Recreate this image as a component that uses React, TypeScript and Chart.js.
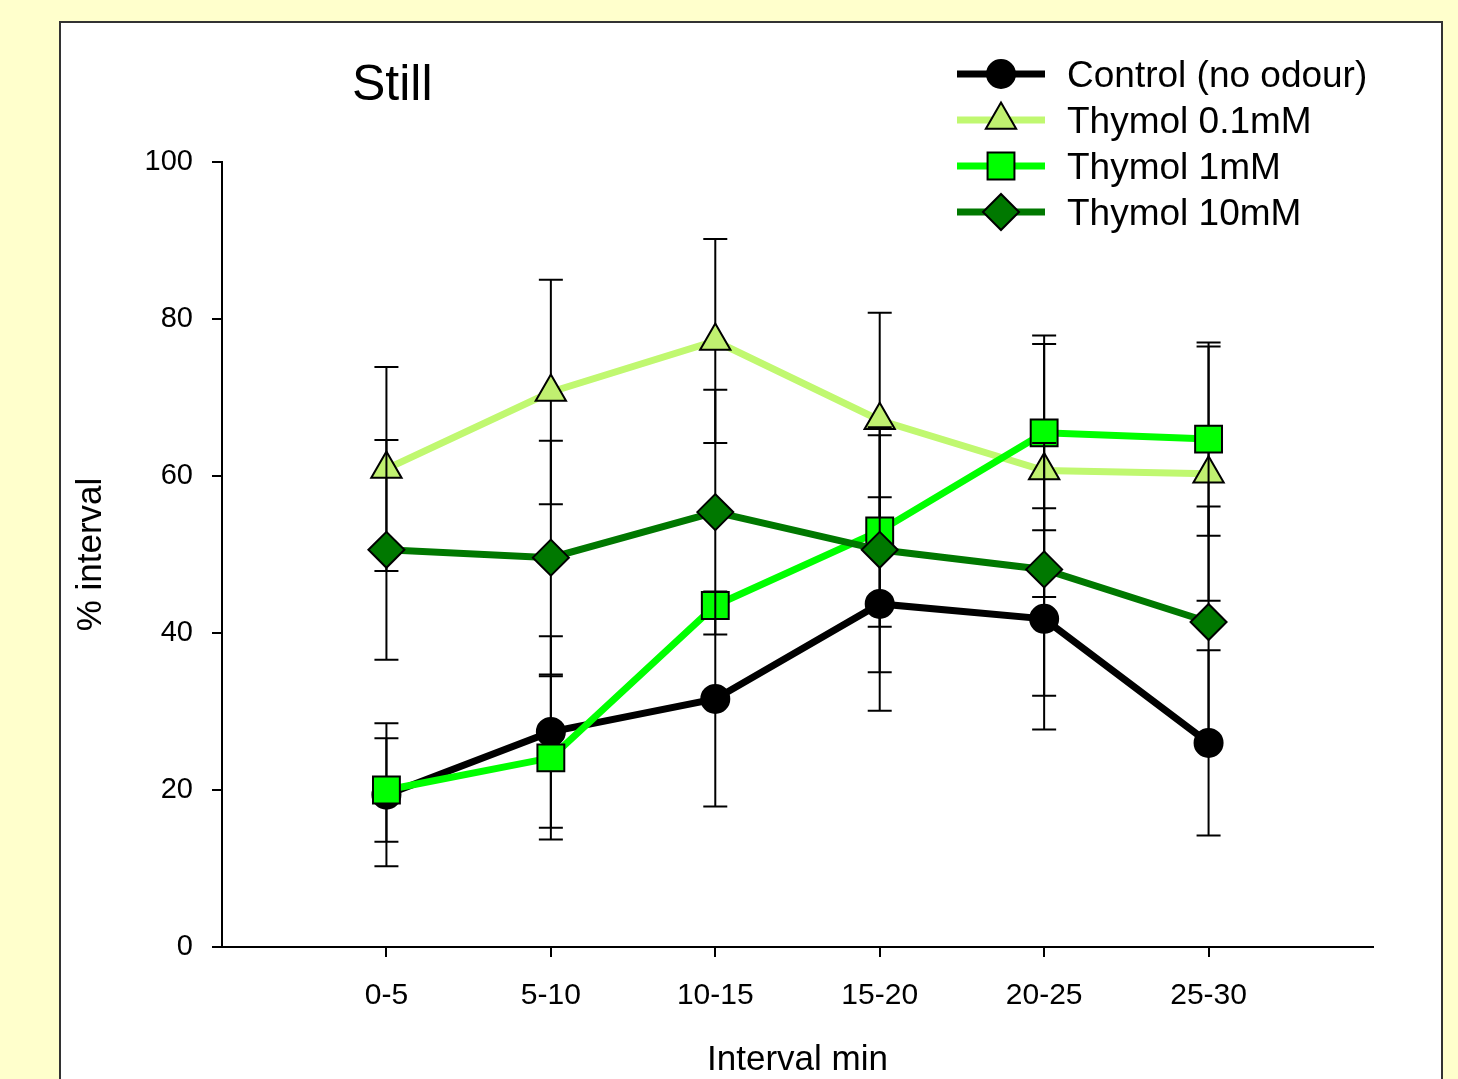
import React, { useEffect, useRef } from 'react';
import { Chart, registerables } from 'chart.js';

Chart.register(...registerables);

// ---- data ----
const categories = ['0-5', '5-10', '10-15', '15-20', '20-25', '25-30'];
const xPositions = [1, 2, 3, 4, 5, 6];
const yTicks = [0, 20, 40, 60, 80, 100];

const seriesNames = ['Control (no odour)', 'Thymol 0.1mM', 'Thymol 1mM', 'Thymol 10mM'];

const controlMean = [19.4, 27.4, 31.6, 43.7, 41.8, 26.0];
const controlErr = [9.1, 12.2, 13.7, 13.6, 14.1, 11.8];

const thymol01Mean = [60.9, 70.7, 77.2, 67.1, 60.7, 60.3];
const thymol01Err = [13.0, 14.3, 13.0, 13.7, 16.1, 16.2];

const thymol1Mean = [20.0, 24.1, 43.5, 53.0, 65.5, 64.7];
const thymol1Err = [6.6, 10.4, 1.5, 12.2, 12.4, 12.3];

const thymol10Mean = [50.6, 49.6, 55.4, 50.6, 48.1, 41.4];
const thymol10Err = [14.0, 14.9, 15.6, 15.6, 16.1, 14.7];

const FONT = "'Liberation Sans', Arial, Helvetica, sans-serif";

type Style = 'circle' | 'triangle' | 'rect' | 'rectRot';

function drawMarker(ctx: CanvasRenderingContext2D, style: Style, x: number, y: number, r: number, fill: string) {
  ctx.save();
  ctx.beginPath();
  if (style === 'circle') {
    ctx.arc(x, y, r, 0, Math.PI * 2);
  } else if (style === 'triangle') {
    let rad = 0;
    const step = (2 * Math.PI) / 3;
    ctx.moveTo(x + Math.sin(rad) * r, y - Math.cos(rad) * r);
    rad += step;
    ctx.lineTo(x + Math.sin(rad) * r, y - Math.cos(rad) * r);
    rad += step;
    ctx.lineTo(x + Math.sin(rad) * r, y - Math.cos(rad) * r);
  } else if (style === 'rect') {
    const s = Math.SQRT1_2 * r;
    ctx.rect(x - s, y - s, 2 * s, 2 * s);
  } else {
    ctx.moveTo(x - r, y);
    ctx.lineTo(x, y - r);
    ctx.lineTo(x + r, y);
    ctx.lineTo(x, y + r);
  }
  ctx.closePath();
  ctx.fillStyle = fill;
  ctx.fill();
  ctx.lineWidth = 2;
  ctx.strokeStyle = '#000';
  ctx.stroke();
  ctx.restore();
}

export default function App() {
  const ref = useRef<HTMLCanvasElement>(null);

  useEffect(() => {
    const canvas = ref.current;
    if (!canvas) return;

    const series = [
      { label: seriesNames[0], mean: controlMean, err: controlErr, line: '#000000', fill: '#000000', style: 'circle' as Style, radius: 14 },
      { label: seriesNames[1], mean: thymol01Mean, err: thymol01Err, line: '#C0F870', fill: '#C0F070', style: 'triangle' as Style, radius: 17.5 },
      { label: seriesNames[2], mean: thymol1Mean, err: thymol1Err, line: '#00FF00', fill: '#00FF00', style: 'rect' as Style, radius: 19 },
      { label: seriesNames[3], mean: thymol10Mean, err: thymol10Err, line: '#007800', fill: '#007800', style: 'rectRot' as Style, radius: 18 },
    ];

    const errorBars = {
      id: 'errorBars',
      beforeDatasetDraw(chart: any, args: any) {
        const s = series[args.index];
        if (!s) return;
        const { ctx } = chart;
        const xs = chart.scales.x;
        const ys = chart.scales.y;
        ctx.save();
        ctx.strokeStyle = '#000';
        ctx.lineWidth = 2;
        s.mean.forEach((v: number, j: number) => {
          const e = s.err[j];
          const px = xs.getPixelForValue(xPositions[j]);
          const top = ys.getPixelForValue(v + e);
          const bot = ys.getPixelForValue(v - e);
          ctx.beginPath();
          ctx.moveTo(px, top);
          ctx.lineTo(px, bot);
          ctx.moveTo(px - 12, top);
          ctx.lineTo(px + 12, top);
          ctx.moveTo(px - 12, bot);
          ctx.lineTo(px + 12, bot);
          ctx.stroke();
        });
        ctx.restore();
      },
    };

    const decor = {
      id: 'decor',
      beforeDraw(chart: any) {
        const { ctx, width, height } = chart;
        ctx.save();
        ctx.fillStyle = '#FFFFCC';
        ctx.fillRect(0, 0, width, height);
        ctx.fillStyle = '#FFFFFF';
        ctx.fillRect(60, 22, 1382, height);
        ctx.strokeStyle = '#333333';
        ctx.lineWidth = 2;
        ctx.strokeRect(60, 22, 1382, height + 10);
        ctx.restore();
      },
      afterDraw(chart: any) {
        const { ctx } = chart;
        ctx.save();
        ctx.fillStyle = '#000';
        ctx.textAlign = 'left';
        ctx.textBaseline = 'alphabetic';
        ctx.font = `50px ${FONT}`;
        ctx.fillText('Still', 352, 100);

        ctx.font = `37px ${FONT}`;
        series.forEach((s, i) => {
          const rowY = 74 + 46 * i;
          ctx.beginPath();
          ctx.strokeStyle = s.line;
          ctx.lineWidth = 7;
          ctx.moveTo(957, rowY);
          ctx.lineTo(1045, rowY);
          ctx.stroke();
          drawMarker(ctx, s.style, 1001, rowY, s.radius, s.fill);
          ctx.fillStyle = '#000';
          ctx.fillText(s.label, 1067, rowY + 13);
        });
        ctx.restore();
      },
    };

    const axisFont = { family: FONT, size: 30 };

    const chart = new Chart(canvas, {
      type: 'line',
      data: {
        datasets: series.map((s, i) => ({
          label: s.label,
          data: s.mean.map((v, j) => ({ x: xPositions[j], y: v })),
          borderColor: s.line,
          backgroundColor: s.fill,
          borderWidth: 7,
          pointStyle: s.style,
          pointRadius: s.radius,
          pointHoverRadius: s.radius,
          pointBackgroundColor: s.fill,
          pointBorderColor: '#000',
          pointBorderWidth: 2,
          fill: false,
          tension: 0,
          order: 4 - i,
          clip: false as any,
        })),
      },
      options: {
        responsive: false,
        animation: false,
        devicePixelRatio: 1,
        events: [],
        layout: { padding: { left: 60, right: 85, top: 162, bottom: 0 } },
        plugins: {
          legend: { display: false },
          title: { display: false },
          tooltip: { enabled: false },
        },
        scales: {
          x: {
            type: 'linear',
            min: 0,
            max: 7,
            afterBuildTicks: (s: any) => {
              s.ticks = xPositions.map((v) => ({ value: v }));
            },
            afterFit: (s: any) => {
              s.height = 132;
            },
            ticks: {
              autoSkip: false,
              maxRotation: 0,
              color: '#000',
              font: axisFont,
              padding: 21,
              callback: (v: any) => {
                const k = xPositions.indexOf(Number(v));
                return k >= 0 ? categories[k] : '';
              },
            },
            grid: { display: true, drawOnChartArea: false, drawTicks: true, tickLength: 10, color: '#000', lineWidth: 2 },
            border: { display: true, color: '#000', width: 2 },
            title: { display: true, text: 'Interval min', color: '#000', font: { family: FONT, size: 35, lineHeight: 1.05 }, padding: { top: 0, bottom: 0 } },
          },
          y: {
            type: 'linear',
            min: 0,
            max: 100,
            afterBuildTicks: (s: any) => {
              s.ticks = yTicks.map((v) => ({ value: v }));
            },
            afterFit: (s: any) => {
              s.width = 162;
            },
            ticks: { color: '#000', font: { family: FONT, size: 29, lineHeight: 1.05 }, padding: 19 },
            grid: { display: true, drawOnChartArea: false, drawTicks: true, tickLength: 10, color: '#000', lineWidth: 2 },
            border: { display: true, color: '#000', width: 2 },
            title: { display: true, text: '% interval', color: '#000', font: { family: FONT, size: 35 }, padding: { top: 10, bottom: 0 } },
          },
        },
      } as any,
      plugins: [decor, errorBars],
    });

    return () => chart.destroy();
  }, []);

  return (
    <div style={{ position: 'fixed', left: 0, top: 0, width: 1458, height: 1079 }}>
      <canvas ref={ref} width={1458} height={1079} style={{ display: 'block', width: 1458, height: 1079 }} />
    </div>
  );
}
